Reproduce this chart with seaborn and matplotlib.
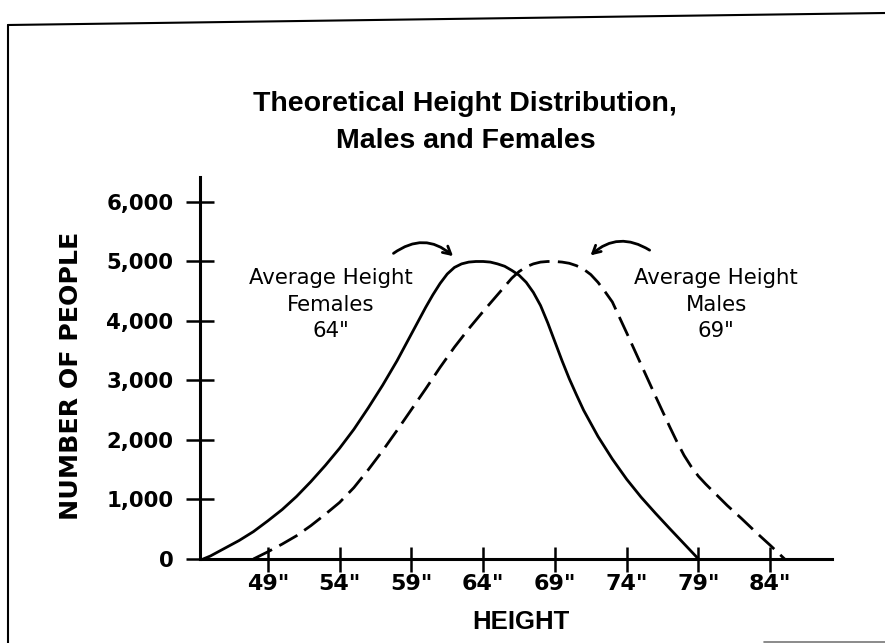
import matplotlib
matplotlib.use("Agg")
import matplotlib.pyplot as plt
from matplotlib.lines import Line2D
import seaborn as sns
import pandas as pd

# ---- data ----
female_height = [44.5, 45, 46, 47, 48, 49, 50, 51, 52, 53, 54, 55, 56, 57, 58, 59, 60,
                 60.5, 61, 61.5, 62, 62.5, 63, 63.5, 64, 64.5, 65, 65.5, 66, 66.5, 67,
                 67.5, 68, 68.5, 69, 69.5, 70, 70.5, 71, 72, 73, 74, 75, 76, 77, 78, 79]
female_count = [0, 50, 180, 310, 460, 640, 830, 1050, 1300, 1570, 1860, 2180, 2540, 2920,
                3330, 3780, 4230, 4440, 4630, 4790, 4900, 4960, 4990, 5000, 5000, 4990,
                4960, 4920, 4850, 4770, 4650, 4480, 4260, 3970, 3650, 3330, 3030, 2760,
                2500, 2060, 1680, 1340, 1040, 770, 510, 255, 0]

male_height = [48, 49, 50, 51, 52, 53, 54, 55, 56, 57, 58, 59, 60, 61, 62, 63, 64, 65, 66,
               66.5, 67, 67.5, 68, 68.5, 69, 69.5, 70, 70.5, 71, 71.5, 72, 72.5, 73, 73.5,
               74, 75, 76, 77, 77.5, 78, 78.5, 79, 79.5, 80, 81, 82, 83, 84, 85]
male_count = [0, 120, 250, 390, 560, 750, 950, 1200, 1500, 1820, 2160, 2510, 2860, 3220,
              3560, 3870, 4160, 4440, 4720, 4830, 4910, 4960, 4990, 5000, 5000, 4990, 4970,
              4930, 4870, 4780, 4650, 4490, 4320, 4060, 3800, 3270, 2740, 2220, 1970, 1740,
              1550, 1390, 1260, 1140, 900, 680, 450, 230, 0]

x_ticks = [49, 54, 59, 64, 69, 74, 79, 84]
x_tick_labels = ['49"', '54"', '59"', '64"', '69"', '74"', '79"', '84"']
y_ticks = [0, 1000, 2000, 3000, 4000, 5000, 6000]
y_tick_labels = ['0', '1,000', '2,000', '3,000', '4,000', '5,000', '6,000']

title_lines = ["Theoretical Height Distribution,", "Males and Females"]
x_label = "HEIGHT"
y_label = "NUMBER OF PEOPLE"
female_note = 'Average Height\nFemales\n64"'
male_note = 'Average Height\nMales\n69"'

# ---- style ----
sns.set_style("white")
plt.rcParams['font.family'] = ['DejaVu Sans']
plt.rcParams['text.color'] = 'black'
plt.rcParams['axes.labelcolor'] = 'black'
plt.rcParams['xtick.color'] = 'black'
plt.rcParams['ytick.color'] = 'black'

W, H = 885, 643
fig = plt.figure(figsize=(W / 100, H / 100), dpi=100)
ax = fig.add_axes([200 / W, (H - 559) / H, 632 / W, 382 / H])

df_f = pd.DataFrame({"height": female_height, "count": female_count})
df_m = pd.DataFrame({"height": male_height, "count": male_count})
sns.lineplot(data=df_f, x="height", y="count", ax=ax, color="black",
             linewidth=2.0, estimator=None, sort=False)
sns.lineplot(data=df_m, x="height", y="count", ax=ax, color="black",
             linewidth=2.0, estimator=None, sort=False)
ax.lines[-1].set_dashes([7.5, 3.0])
for ln in ax.lines:
    ln.set_solid_joinstyle("round")
    ln.set_dash_joinstyle("round")

ax.set_xlim(44.28, 88.3)
ax.set_ylim(0, 6420)

for s in ["top", "right"]:
    ax.spines[s].set_visible(False)
for s in ["left", "bottom"]:
    ax.spines[s].set_color("black")
    ax.spines[s].set_linewidth(2.2)

ax.set_xticks(x_ticks)
ax.set_xticklabels(x_tick_labels, fontsize=16, fontweight="bold", family="DejaVu Sans")
ax.set_yticks(y_ticks)
ax.set_yticklabels(y_tick_labels, fontsize=15.3, fontweight="bold", family="DejaVu Sans")
ax.tick_params(axis="x", bottom=True, direction="inout", length=18, width=1.8, pad=2,
               colors="black")
ax.tick_params(axis="y", left=True, direction="inout", length=20, width=1.8, pad=9,
               colors="black")

ax.set_xlabel(x_label, fontsize=18.5, fontweight="bold", family=["Liberation Sans", "DejaVu Sans"])
ax.xaxis.label.set_va("center")
ax.xaxis.set_label_coords((521 - 200) / 632, (559 - 622) / 382)
ax.set_ylabel(y_label, fontsize=18.2, fontweight="bold", family="DejaVu Sans")
ax.yaxis.label.set_va("center")
ax.yaxis.set_label_coords((71 - 200) / 632, (559 - 376) / 382)

# title
fig.text(465 / W, 1 - 104 / H, title_lines[0], ha="center", va="center",
         fontsize=20.5, fontweight="bold", family=["Liberation Sans", "DejaVu Sans"])
fig.text(466 / W, 1 - 141 / H, title_lines[1], ha="center", va="center",
         fontsize=20.5, fontweight="bold", family=["Liberation Sans", "DejaVu Sans"])

# annotations
ax.text(53.41, 4277, female_note, ha="center", va="center", fontsize=15.3,
        linespacing=1.42, family="DejaVu Sans")
ax.text(80.24, 4277, male_note, ha="center", va="center", fontsize=15.3,
        linespacing=1.42, family="DejaVu Sans")

ax.annotate("", xy=(62.05, 5059), xytext=(57.6, 5109),
            arrowprops=dict(arrowstyle="->,head_length=0.55,head_width=0.3", color="black",
                            lw=2.0, connectionstyle="arc3,rad=-0.42"))
ax.annotate("", xy=(71.34, 5071), xytext=(75.76, 5165),
            arrowprops=dict(arrowstyle="->,head_length=0.55,head_width=0.3", color="black",
                            lw=2.0, connectionstyle="arc3,rad=0.4"))

# frame around the chart
fig.add_artist(Line2D([8 / W, 8 / W], [0, 1 - 25 / H], transform=fig.transFigure,
                      color="black", lw=1.5))
fig.add_artist(Line2D([8 / W, 1.0], [1 - 25 / H, 1 - 13 / H], transform=fig.transFigure,
                      color="black", lw=1.5))
fig.add_artist(Line2D([764 / W, 1.0], [1 - 642 / H, 1 - 642 / H], transform=fig.transFigure,
                      color="#777777", lw=1.2))

fig.savefig("out.png", dpi=100)
